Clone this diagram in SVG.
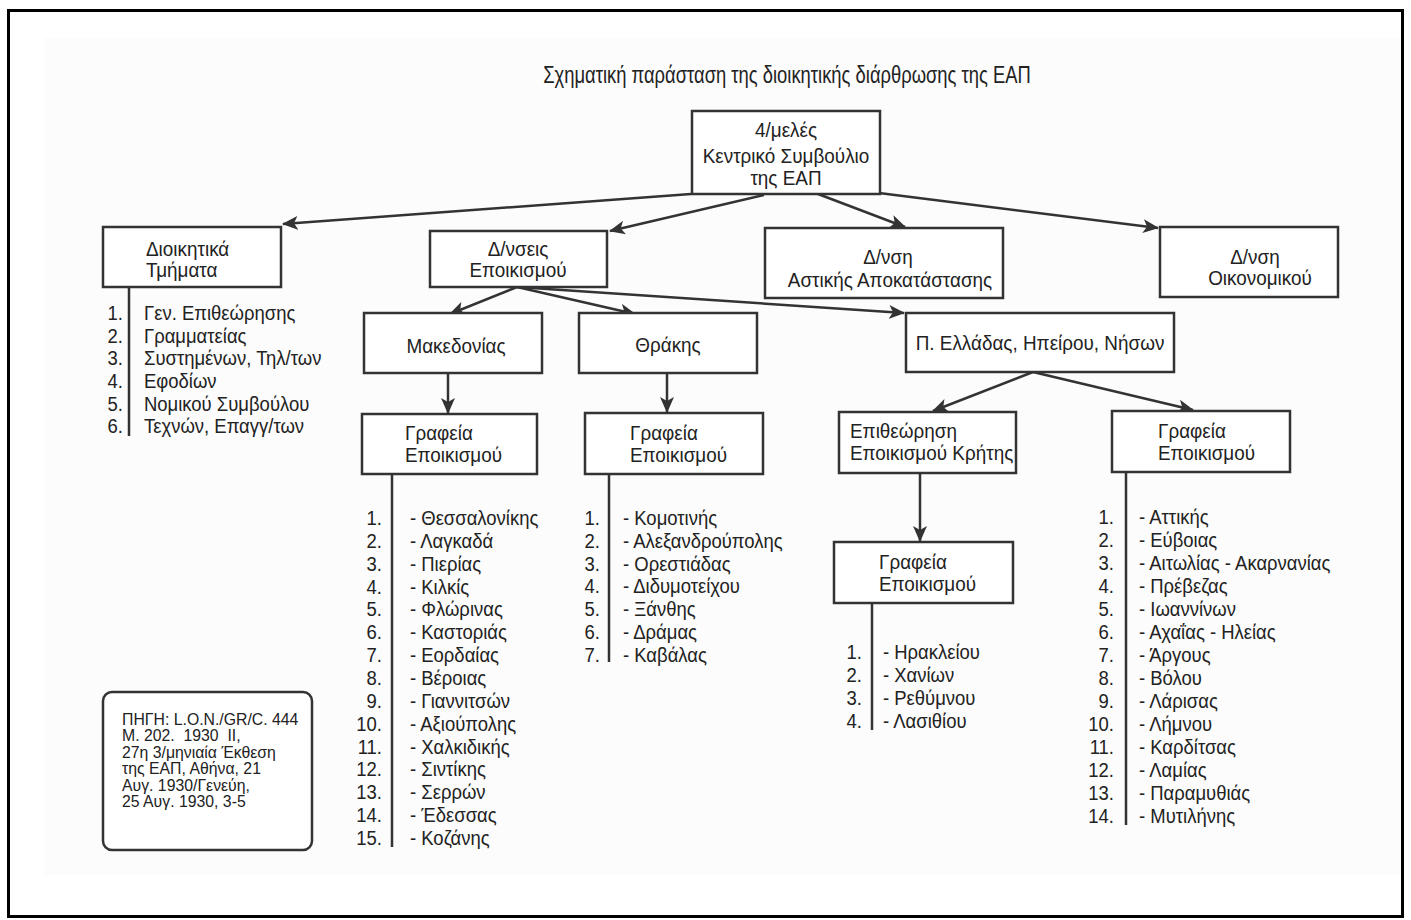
<svg xmlns="http://www.w3.org/2000/svg" width="1411" height="920" viewBox="0 0 1411 920">
<style>
text{font-family:"Liberation Sans",Arial,sans-serif;fill:#222;transform-box:fill-box;transform-origin:left center}
text.m{text-anchor:middle;transform-origin:center}
text.e{text-anchor:end;transform-origin:right center}
.t{font-size:23px;transform:scaleX(0.8)}
.b{font-size:21px;transform:scaleX(0.9)}
.l{font-size:21px;transform:scaleX(0.88)}
.s{font-size:17px;transform:scaleX(0.93)}
.box{fill:#fff;stroke:#333;stroke-width:2.5}
.ln{fill:none;stroke:#333;stroke-width:2.5}
.bar{fill:none;stroke:#333;stroke-width:2.5}
</style>
<defs>
<marker id="ah" markerUnits="userSpaceOnUse" markerWidth="16" markerHeight="14" refX="15" refY="7" orient="auto">
<path d="M0,0 L16,7 L0,14 L4,7 Z" fill="#333"/>
</marker>
</defs>
<rect x="0" y="0" width="1411" height="920" fill="#fff"/>
<rect x="44" y="38" width="1358" height="837" fill="#fcfcfc"/>
<rect x="8.5" y="10.5" width="1394" height="906" fill="none" stroke="#000" stroke-width="3"/>

<text id="title" class="t m" x="787" y="83">Σχηματική παράσταση της διοικητικής διάρθρωσης της ΕΑΠ</text>

<g id="connectors">
<path class="ln" d="M691,194 L283,224" marker-end="url(#ah)"/>
<path class="ln" d="M764,195 L610,231" marker-end="url(#ah)"/>
<path class="ln" d="M818,194 L905,227" marker-end="url(#ah)"/>
<path class="ln" d="M879,193 L1158,228" marker-end="url(#ah)"/>
<path class="ln" d="M517,287 L450,314" marker-end="url(#ah)"/>
<path class="ln" d="M517,287 L635,314" marker-end="url(#ah)"/>
<path class="ln" d="M517,287 L904,313" marker-end="url(#ah)"/>
<path class="ln" d="M448,373 L448,413" marker-end="url(#ah)"/>
<path class="ln" d="M667,373 L667,412" marker-end="url(#ah)"/>
<path class="ln" d="M1033,372 L933,411" marker-end="url(#ah)"/>
<path class="ln" d="M1033,372 L1193,410" marker-end="url(#ah)"/>
<path class="ln" d="M920,473 L920,541" marker-end="url(#ah)"/>
<path class="bar" d="M129,287 L129,436"/>
<path class="bar" d="M392,474 L392,847"/>
<path class="bar" d="M609,474 L609,662"/>
<path class="bar" d="M872,603 L872,730"/>
<path class="bar" d="M1126,472 L1126,825"/>
</g>

<g id="kentriko">
<rect class="box" x="692" y="111" width="188" height="83"/>
<text class="b m" x="786" y="137">4/μελές</text>
<text class="b m" x="786" y="163">Κεντρικό Συμβούλιο</text>
<text class="b m" x="786" y="185">της ΕΑΠ</text>
</g>

<g id="dioikitika">
<rect class="box" x="103" y="227" width="178" height="60"/>
<text class="b" x="146" y="256">Διοικητικά</text>
<text class="b" x="146" y="277">Τμήματα</text>
</g>

<g id="dioikitika-list">
<text class="l e" x="123" y="320">1.</text><text class="l" x="144" y="320">Γεν. Επιθεώρησης</text>
<text class="l e" x="123" y="342.7">2.</text><text class="l" x="144" y="342.7">Γραμματείας</text>
<text class="l e" x="123" y="365.4">3.</text><text class="l" x="144" y="365.4">Συστημένων, Τηλ/των</text>
<text class="l e" x="123" y="388.1">4.</text><text class="l" x="144" y="388.1">Εφοδίων</text>
<text class="l e" x="123" y="410.8">5.</text><text class="l" x="144" y="410.8">Νομικού Συμβούλου</text>
<text class="l e" x="123" y="433.5">6.</text><text class="l" x="144" y="433.5">Τεχνών, Επαγγ/των</text>
</g>

<g id="dnseis">
<rect class="box" x="430" y="231" width="177" height="56"/>
<text class="b m" x="518" y="256">Δ/νσεις</text>
<text class="b m" x="518" y="277">Εποικισμού</text>
</g>

<g id="astikis">
<rect class="box" x="765" y="228" width="238" height="70"/>
<text class="b m" x="888" y="264">Δ/νση</text>
<text class="b m" x="890" y="287">Αστικής Αποκατάστασης</text>
</g>

<g id="oikonomikou">
<rect class="box" x="1160" y="227" width="178" height="70"/>
<text class="b m" x="1255" y="264">Δ/νση</text>
<text class="b m" x="1260" y="285">Οικονομικού</text>
</g>

<g id="makedonias">
<rect class="box" x="364" y="313" width="178" height="60"/>
<text class="b m" x="456" y="353">Μακεδονίας</text>
</g>

<g id="thrakis">
<rect class="box" x="579" y="313" width="178" height="60"/>
<text class="b m" x="668" y="352">Θράκης</text>
</g>

<g id="p-ellados">
<rect class="box" x="906" y="313" width="268" height="59"/>
<text class="b m" x="1040" y="350">Π. Ελλάδας, Ηπείρου, Νήσων</text>
</g>

<g id="grafeia-mak">
<rect class="box" x="362" y="414" width="175" height="60"/>
<text class="b" x="405" y="440">Γραφεία</text>
<text class="b" x="405" y="462">Εποικισμού</text>
</g>

<g id="grafeia-thr">
<rect class="box" x="585" y="413" width="178" height="61"/>
<text class="b" x="630" y="440">Γραφεία</text>
<text class="b" x="630" y="462">Εποικισμού</text>
</g>

<g id="epitheorisi">
<rect class="box" x="839" y="412" width="177" height="61"/>
<text class="b" x="850" y="438">Επιθεώρηση</text>
<text class="b" x="850" y="460">Εποικισμού Κρήτης</text>
</g>

<g id="grafeia-pel">
<rect class="box" x="1112" y="411" width="178" height="61"/>
<text class="b" x="1158" y="438">Γραφεία</text>
<text class="b" x="1158" y="460">Εποικισμού</text>
</g>

<g id="grafeia-kri">
<rect class="box" x="834" y="542" width="179" height="61"/>
<text class="b" x="879" y="569">Γραφεία</text>
<text class="b" x="879" y="591">Εποικισμού</text>
</g>

<g id="mak-list">
<text class="l e" x="382" y="525">1.</text><text class="l" x="410" y="525">- Θεσσαλονίκης</text>
<text class="l e" x="382" y="547.9">2.</text><text class="l" x="410" y="547.9">- Λαγκαδά</text>
<text class="l e" x="382" y="570.7">3.</text><text class="l" x="410" y="570.7">- Πιερίας</text>
<text class="l e" x="382" y="593.6">4.</text><text class="l" x="410" y="593.6">- Κιλκίς</text>
<text class="l e" x="382" y="616.4">5.</text><text class="l" x="410" y="616.4">- Φλώρινας</text>
<text class="l e" x="382" y="639.3">6.</text><text class="l" x="410" y="639.3">- Καστοριάς</text>
<text class="l e" x="382" y="662.2">7.</text><text class="l" x="410" y="662.2">- Εορδαίας</text>
<text class="l e" x="382" y="685">8.</text><text class="l" x="410" y="685">- Βέροιας</text>
<text class="l e" x="382" y="707.9">9.</text><text class="l" x="410" y="707.9">- Γιαννιτσών</text>
<text class="l e" x="382" y="730.7">10.</text><text class="l" x="410" y="730.7">- Αξιούπολης</text>
<text class="l e" x="382" y="753.6">11.</text><text class="l" x="410" y="753.6">- Χαλκιδικής</text>
<text class="l e" x="382" y="776.4">12.</text><text class="l" x="410" y="776.4">- Σιντίκης</text>
<text class="l e" x="382" y="799.3">13.</text><text class="l" x="410" y="799.3">- Σερρών</text>
<text class="l e" x="382" y="822.1">14.</text><text class="l" x="410" y="822.1">- Έδεσσας</text>
<text class="l e" x="382" y="845">15.</text><text class="l" x="410" y="845">- Κοζάνης</text>
</g>

<g id="thr-list">
<text class="l e" x="600" y="525">1.</text><text class="l" x="623" y="525">- Κομοτινής</text>
<text class="l e" x="600" y="547.8">2.</text><text class="l" x="623" y="547.8">- Αλεξανδρούπολης</text>
<text class="l e" x="600" y="570.6">3.</text><text class="l" x="623" y="570.6">- Ορεστιάδας</text>
<text class="l e" x="600" y="593.4">4.</text><text class="l" x="623" y="593.4">- Διδυμοτείχου</text>
<text class="l e" x="600" y="616.2">5.</text><text class="l" x="623" y="616.2">- Ξάνθης</text>
<text class="l e" x="600" y="639">6.</text><text class="l" x="623" y="639">- Δράμας</text>
<text class="l e" x="600" y="661.8">7.</text><text class="l" x="623" y="661.8">- Καβάλας</text>
</g>

<g id="kri-list">
<text class="l e" x="862" y="659">1.</text><text class="l" x="883" y="659">- Ηρακλείου</text>
<text class="l e" x="862" y="682.1">2.</text><text class="l" x="883" y="682.1">- Χανίων</text>
<text class="l e" x="862" y="705.2">3.</text><text class="l" x="883" y="705.2">- Ρεθύμνου</text>
<text class="l e" x="862" y="728.3">4.</text><text class="l" x="883" y="728.3">- Λασιθίου</text>
</g>

<g id="pel-list">
<text class="l e" x="1114" y="524">1.</text><text class="l" x="1139" y="524">- Αττικής</text>
<text class="l e" x="1114" y="547">2.</text><text class="l" x="1139" y="547">- Εύβοιας</text>
<text class="l e" x="1114" y="570">3.</text><text class="l" x="1139" y="570">- Αιτωλίας - Ακαρνανίας</text>
<text class="l e" x="1114" y="593">4.</text><text class="l" x="1139" y="593">- Πρέβεζας</text>
<text class="l e" x="1114" y="616">5.</text><text class="l" x="1139" y="616">- Ιωαννίνων</text>
<text class="l e" x="1114" y="639">6.</text><text class="l" x="1139" y="639">- Αχαΐας - Ηλείας</text>
<text class="l e" x="1114" y="662">7.</text><text class="l" x="1139" y="662">- Άργους</text>
<text class="l e" x="1114" y="685">8.</text><text class="l" x="1139" y="685">- Βόλου</text>
<text class="l e" x="1114" y="708">9.</text><text class="l" x="1139" y="708">- Λάρισας</text>
<text class="l e" x="1114" y="731">10.</text><text class="l" x="1139" y="731">- Λήμνου</text>
<text class="l e" x="1114" y="754">11.</text><text class="l" x="1139" y="754">- Καρδίτσας</text>
<text class="l e" x="1114" y="777">12.</text><text class="l" x="1139" y="777">- Λαμίας</text>
<text class="l e" x="1114" y="800">13.</text><text class="l" x="1139" y="800">- Παραμυθιάς</text>
<text class="l e" x="1114" y="823">14.</text><text class="l" x="1139" y="823">- Μυτιλήνης</text>
</g>

<g id="source">
<rect x="103" y="692" width="209" height="158" rx="9" fill="#fff" stroke="#333" stroke-width="2.5"/>
<text class="s" x="122" y="725">ΠΗΓΗ: L.O.N./GR/C. 444</text>
<text class="s" x="122" y="741.4" xml:space="preserve">M. 202.  1930  II,</text>
<text class="s" x="122" y="757.8">27η 3/μηνιαία Έκθεση</text>
<text class="s" x="122" y="774.2">της ΕΑΠ, Αθήνα, 21</text>
<text class="s" x="122" y="790.6">Αυγ. 1930/Γενεύη,</text>
<text class="s" x="122" y="807">25 Αυγ. 1930, 3-5</text>
</g>
</svg>
